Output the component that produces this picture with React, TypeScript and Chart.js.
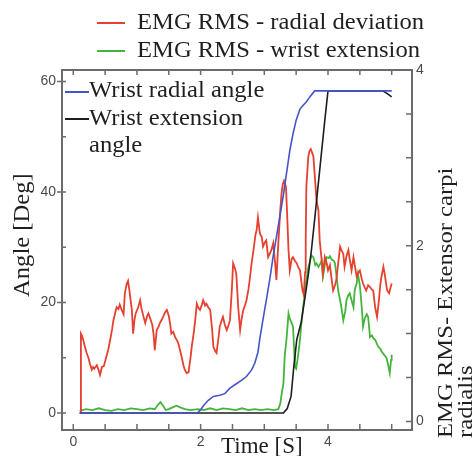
import React, { useEffect, useRef } from 'react';
import { Chart, registerables } from 'chart.js';

Chart.register(...registerables);

// ---------- data (time in s) ----------
const blueT = [0.1, 1.95, 2.0, 2.05, 2.12, 2.2, 2.3, 2.38, 2.46, 2.55, 2.64, 2.72, 2.8, 2.85, 2.9, 2.93, 2.98, 3.04, 3.09, 3.14, 3.2, 3.25, 3.3, 3.35, 3.4, 3.45, 3.5, 3.56, 3.61, 3.66, 3.72, 3.79, 5.0];
const blueV = [0, 0, 0.6, 1.4, 2.3, 3.0, 3.2, 3.5, 4.5, 5.2, 5.9, 6.6, 7.8, 9.0, 11, 13.5, 17, 21, 24.5, 28.5, 32.5, 36, 39.5, 43.5, 47.5, 50.5, 53, 55, 55.7, 56.3, 57.3, 58.3, 58.3];

const blackT = [0.1, 3.3, 3.36, 3.42, 3.46, 3.51, 3.58, 3.64, 3.69, 3.74, 3.79, 3.87, 3.95, 4.0, 4.86, 4.93, 5.0];
const blackV = [0, 0, 0.8, 3, 8, 13.3, 16.5, 21, 25, 29.5, 35, 44, 53, 58.3, 58.3, 57.8, 57.2];

const redT = [0.115, 0.12, 0.14, 0.16, 0.18, 0.21, 0.24, 0.26, 0.29, 0.31, 0.33, 0.37, 0.4, 0.42, 0.45, 0.48, 0.52, 0.55, 0.58, 0.61, 0.63, 0.66, 0.68, 0.71, 0.73, 0.76, 0.79, 0.81, 0.84, 0.86, 0.88, 0.9, 0.92, 0.94, 0.96, 0.98, 1.02, 1.05, 1.07, 1.1, 1.13, 1.16, 1.18, 1.21, 1.24, 1.26, 1.28, 1.31, 1.34, 1.36, 1.39, 1.41, 1.44, 1.47, 1.5, 1.52, 1.54, 1.57, 1.6, 1.63, 1.65, 1.68, 1.7, 1.73, 1.75, 1.78, 1.81, 1.84, 1.86, 1.89, 1.91, 1.94, 1.96, 1.99, 2.02, 2.04, 2.07, 2.09, 2.12, 2.15, 2.18, 2.2, 2.23, 2.25, 2.28, 2.3, 2.33, 2.35, 2.38, 2.41, 2.44, 2.46, 2.49, 2.51, 2.54, 2.56, 2.59, 2.62, 2.64, 2.67, 2.7, 2.72, 2.75, 2.77, 2.8, 2.83, 2.86, 2.88, 2.9, 2.93, 2.96, 2.98, 3.01, 3.03, 3.06, 3.08, 3.11, 3.14, 3.17, 3.19, 3.22, 3.25, 3.27, 3.29, 3.31, 3.34, 3.36, 3.38, 3.4, 3.43, 3.45, 3.48, 3.51, 3.53, 3.56, 3.58, 3.6, 3.62, 3.64, 3.65, 3.66, 3.69, 3.71, 3.73, 3.75, 3.77, 3.79, 3.82, 3.85, 3.87, 3.9, 3.92, 3.95, 3.98, 4.0, 4.03, 4.06, 4.08, 4.11, 4.13, 4.16, 4.19, 4.21, 4.24, 4.26, 4.29, 4.32, 4.34, 4.37, 4.4, 4.42, 4.45, 4.48, 4.5, 4.53, 4.55, 4.58, 4.6, 4.63, 4.66, 4.69, 4.71, 4.74, 4.77, 4.8, 4.82, 4.84, 4.87, 4.89, 4.91, 4.93, 4.96, 4.98, 5.0];
const redV = [0.1, 1.0, 0.97, 0.92, 0.86, 0.78, 0.72, 0.66, 0.59, 0.62, 0.6, 0.64, 0.58, 0.53, 0.62, 0.63, 0.74, 0.82, 0.93, 1.05, 1.15, 1.24, 1.3, 1.28, 1.33, 1.27, 1.22, 1.46, 1.57, 1.6, 1.5, 1.38, 1.27, 1.0, 1.15, 1.23, 1.3, 1.38, 1.29, 1.2, 1.12, 1.2, 1.23, 1.17, 1.1, 1.0, 0.81, 1.04, 1.08, 1.12, 1.16, 1.19, 1.24, 1.27, 1.2, 1.12, 1.0, 1.02, 0.96, 0.92, 0.89, 0.8, 0.74, 0.64, 0.59, 0.55, 0.56, 0.72, 0.85, 1.0, 1.12, 1.34, 1.3, 1.27, 1.33, 1.38, 1.32, 1.34, 1.3, 1.27, 1.05, 0.85, 0.8, 0.78, 0.95, 1.08, 1.15, 1.19, 1.1, 1.04, 1.1, 1.15, 1.5, 1.8, 1.74, 1.68, 1.3, 1.04, 1.15, 1.27, 1.33, 1.38, 1.5, 1.61, 1.8, 1.95, 2.12, 2.18, 2.32, 2.14, 2.1, 1.99, 2.04, 2.06, 1.87, 1.9, 1.95, 2.03, 1.8, 1.61, 2.03, 2.4, 2.59, 2.7, 2.74, 2.67, 2.33, 1.95, 1.72, 1.85, 1.87, 1.83, 1.8, 1.76, 1.72, 1.6, 1.49, 1.44, 1.7, 2.06, 2.67, 3.01, 3.08, 3.1, 3.06, 3.02, 2.82, 2.52, 2.4, 2.06, 1.84, 1.68, 1.87, 1.8, 1.72, 1.78, 1.6, 1.49, 1.55, 1.61, 1.8, 1.99, 1.95, 1.91, 1.76, 1.88, 1.95, 1.85, 1.72, 1.87, 1.78, 1.65, 1.7, 1.72, 1.62, 1.57, 1.52, 1.49, 1.55, 1.53, 1.5, 1.49, 1.3, 1.19, 1.38, 1.55, 1.65, 1.76, 1.68, 1.58, 1.49, 1.46, 1.52, 1.57];

const greenT = [0.1, 0.2, 0.3, 0.4, 0.5, 0.6, 0.7, 0.8, 0.9, 1.0, 1.1, 1.2, 1.28, 1.33, 1.37, 1.41, 1.45, 1.5, 1.56, 1.62, 1.68, 1.75, 1.85, 1.95, 2.05, 2.15, 2.25, 2.35, 2.45, 2.55, 2.65, 2.75, 2.85, 2.95, 3.05, 3.15, 3.22, 3.25, 3.28, 3.3, 3.32, 3.35, 3.38, 3.4, 3.43, 3.45, 3.47, 3.48, 3.5, 3.53, 3.56, 3.58, 3.61, 3.64, 3.66, 3.69, 3.72, 3.74, 3.77, 3.8, 3.82, 3.85, 3.88, 3.9, 3.92, 3.95, 3.98, 4.01, 4.03, 4.06, 4.09, 4.11, 4.14, 4.16, 4.19, 4.21, 4.24, 4.27, 4.29, 4.32, 4.34, 4.37, 4.4, 4.42, 4.45, 4.47, 4.5, 4.53, 4.55, 4.58, 4.61, 4.63, 4.66, 4.69, 4.71, 4.74, 4.77, 4.79, 4.82, 4.84, 4.86, 4.89, 4.92, 4.94, 4.97, 4.99, 5.0];
const greenV = [0.12, 0.14, 0.13, 0.15, 0.13, 0.12, 0.14, 0.13, 0.15, 0.14, 0.13, 0.15, 0.14, 0.19, 0.22, 0.18, 0.13, 0.14, 0.16, 0.18, 0.16, 0.14, 0.13, 0.14, 0.13, 0.15, 0.13, 0.15, 0.14, 0.13, 0.15, 0.13, 0.14, 0.13, 0.14, 0.13, 0.14, 0.2, 0.35, 0.43, 0.74, 0.95, 1.23, 1.17, 1.12, 1.08, 0.8, 0.62, 0.6, 0.75, 0.93, 1.1, 1.3, 1.48, 1.61, 1.75, 1.83, 1.89, 1.87, 1.78, 1.8, 1.76, 1.8, 1.83, 1.65, 1.78, 1.87, 1.86, 1.88, 1.84, 1.83, 1.8, 1.62, 1.49, 1.38, 1.3, 1.15, 1.25, 1.38, 1.44, 1.46, 1.38, 1.3, 1.5, 1.57, 1.68, 1.55, 1.3, 1.08, 1.18, 1.22, 1.19, 0.96, 0.98, 0.95, 0.93, 0.88, 0.85, 0.83, 0.8, 0.78, 0.75, 0.72, 0.66, 0.55, 0.7, 0.76];

// ---------- axes ----------
const xTickValues = [0, 0.5, 1, 1.5, 2, 2.5, 3, 3.5, 4, 4.5, 5];
const xTickLabels = [0, 2, 4];
const leftTickValues = [0, 10, 20, 30, 40, 50, 60];
const leftTickLabels = [0, 20, 40, 60];
const rightTickValues = [0, 0.5, 1, 1.5, 2, 2.5, 3, 3.5, 4];
const rightTickLabels = [0, 2, 4];

const xTitle = 'Time [S]';
const leftTitle = 'Angle [Deg]';
const rightTitleLines = ['EMG RMS- Extensor carpi', 'radialis'];
const seriesNames = ['Wrist radial angle', 'Wrist extension angle', 'EMG RMS - radial deviation', 'EMG RMS - wrist extension'];
const innerLegendLines = [['Wrist radial angle'], ['Wrist extension', 'angle']];

const BLUE = '#4555c8';
const BLACK = '#1e1e1e';
const RED = '#e6402f';
const GREEN = '#45b43c';
const FRAME = '#6c6c6c';
const TEXT = '#1f1f1f';
const SERIF = '"Liberation Serif", "Times New Roman", serif';
const SANS = '"Liberation Sans", Arial, sans-serif';
const SX = 1.07;

function pts(t: number[], v: number[]) {
  return t.map((x, i) => ({ x, y: v[i] }));
}

function drawText(ctx: CanvasRenderingContext2D, s: string, x: number, y: number, sx = SX, rot = 0) {
  ctx.save();
  ctx.translate(x, y);
  if (rot) ctx.rotate(rot);
  ctx.scale(sx, 1);
  ctx.fillText(s, 0, 0);
  ctx.restore();
}

const decor = {
  id: 'decor',
  afterDraw(chart: any) {
    const { ctx, chartArea } = chart;
    const { left, right, top, bottom } = chartArea;
    const { x, y, y1 } = chart.scales;
    ctx.save();
    // frame
    ctx.strokeStyle = FRAME;
    ctx.lineWidth = 2;
    ctx.strokeRect(left, top, right - left, bottom - top);
    // ticks
    ctx.lineWidth = 1.5;
    ctx.beginPath();
    xTickValues.forEach((v) => {
      const px = x.getPixelForValue(v);
      ctx.moveTo(px, bottom);
      ctx.lineTo(px, bottom - 6);
      ctx.moveTo(px, top);
      ctx.lineTo(px, top + 5);
    });
    leftTickValues.forEach((v) => {
      const py = y.getPixelForValue(v);
      const major = leftTickLabels.includes(v);
      ctx.moveTo(major ? left - 5 : left, py);
      ctx.lineTo(left + 4, py);
    });
    rightTickValues.forEach((v) => {
      const py = y1.getPixelForValue(v);
      ctx.moveTo(right, py);
      ctx.lineTo(right - 6, py);
    });
    ctx.stroke();

    const ds = chart.data.datasets;
    ctx.fillStyle = TEXT;
    ctx.font = `23px ${SERIF}`;
    ctx.textAlign = 'left';
    ctx.textBaseline = 'alphabetic';

    // top legend (EMG)
    const topRows = [
      { c: ds[2].borderColor, label: ds[2].label, ly: 23, by: 29 },
      { c: ds[3].borderColor, label: ds[3].label, ly: 51, by: 57 },
    ];
    topRows.forEach((r) => {
      ctx.strokeStyle = r.c;
      ctx.lineWidth = 2;
      ctx.beginPath();
      ctx.moveTo(97, r.ly);
      ctx.lineTo(125, r.ly);
      ctx.stroke();
      drawText(ctx, r.label, 137, r.by);
    });

    // inner legend (angles)
    const inner = [
      { c: ds[0].borderColor, lines: innerLegendLines[0], ly: 92, by: 97 },
      { c: ds[1].borderColor, lines: innerLegendLines[1], ly: 119, by: 125 },
    ];
    inner.forEach((r) => {
      ctx.strokeStyle = r.c;
      ctx.lineWidth = 2;
      ctx.beginPath();
      ctx.moveTo(65, r.ly);
      ctx.lineTo(89, r.ly);
      ctx.stroke();
      r.lines.forEach((s, i) => drawText(ctx, s, 89, r.by + i * 26.5));
    });

    // axis titles
    drawText(ctx, xTitle, 221, 453, 1);
    drawText(ctx, leftTitle, 29, 297, SX, -Math.PI / 2);
    ctx.font = `22px ${SERIF}`;
    drawText(ctx, rightTitleLines[0], 452, 438, 1.12, -Math.PI / 2);
    drawText(ctx, rightTitleLines[1], 472, 438, 1.12, -Math.PI / 2);
    ctx.restore();
  },
};

export default function App() {
  const ref = useRef<HTMLCanvasElement | null>(null);
  useEffect(() => {
    document.body.style.margin = '0';
    const canvas = ref.current;
    if (!canvas) return;
    const tickFont = { family: SANS, size: 14 };
    const chart = new Chart(canvas, {
      type: 'line',
      data: {
        datasets: [
          { label: seriesNames[0], data: pts(blueT, blueV), borderColor: BLUE, yAxisID: 'y', order: 0 },
          { label: seriesNames[1], data: pts(blackT, blackV), borderColor: BLACK, yAxisID: 'y', order: 1 },
          { label: seriesNames[2], data: pts(redT, redV), borderColor: RED, borderWidth: 1.8, yAxisID: 'y1', order: 2 },
          { label: seriesNames[3], data: pts(greenT, greenV), borderColor: GREEN, borderWidth: 1.8, yAxisID: 'y1', order: 3 },
        ] as any,
      },
      options: {
        responsive: false,
        animation: false,
        devicePixelRatio: 1,
        layout: { padding: { top: 70, left: 0, right: 0, bottom: 0 } },
        elements: {
          point: { radius: 0 },
          line: { borderWidth: 1.6, tension: 0 },
        },
        plugins: { legend: { display: false }, tooltip: { enabled: false } },
        scales: {
          x: {
            type: 'linear',
            position: 'bottom',
            min: -0.177,
            max: 5.319,
            grid: { display: false, drawTicks: false },
            border: { display: false },
            afterBuildTicks: (s: any) => { s.ticks = xTickValues.map((value) => ({ value })); },
            afterFit: (s: any) => { s.height = 26; },
            ticks: {
              autoSkip: false,
              maxRotation: 0,
              padding: 4,
              color: '#4a4a4a',
              font: tickFont,
              callback: (v: any) => (xTickLabels.includes(Number(v)) ? String(v) : ''),
            },
          },
          y: {
            type: 'linear',
            position: 'left',
            min: -3.08,
            max: 62.08,
            grid: { display: false, drawTicks: false },
            border: { display: false },
            afterBuildTicks: (s: any) => { s.ticks = leftTickValues.map((value) => ({ value })); },
            afterFit: (s: any) => { s.width = 62; },
            ticks: {
              autoSkip: false,
              padding: 6,
              color: '#4a4a4a',
              font: tickFont,
              callback: (v: any) => (leftTickLabels.includes(Number(v)) ? String(v) : ''),
            },
          },
          y1: {
            type: 'linear',
            position: 'right',
            min: -0.097,
            max: 4.0,
            grid: { display: false, drawTicks: false },
            border: { display: false },
            afterBuildTicks: (s: any) => { s.ticks = rightTickValues.map((value) => ({ value })); },
            afterFit: (s: any) => { s.width = 63; },
            ticks: {
              autoSkip: false,
              padding: 4,
              color: '#4a4a4a',
              font: tickFont,
              callback: (v: any) => (rightTickLabels.includes(Number(v)) ? String(v) : ''),
            },
          },
        },
      } as any,
      plugins: [decor],
    });
    return () => chart.destroy();
  }, []);
  return (
    <div style={{ width: 475, height: 456, background: '#fff' }}>
      <canvas ref={ref} width={475} height={456} style={{ display: 'block' }} />
    </div>
  );
}
